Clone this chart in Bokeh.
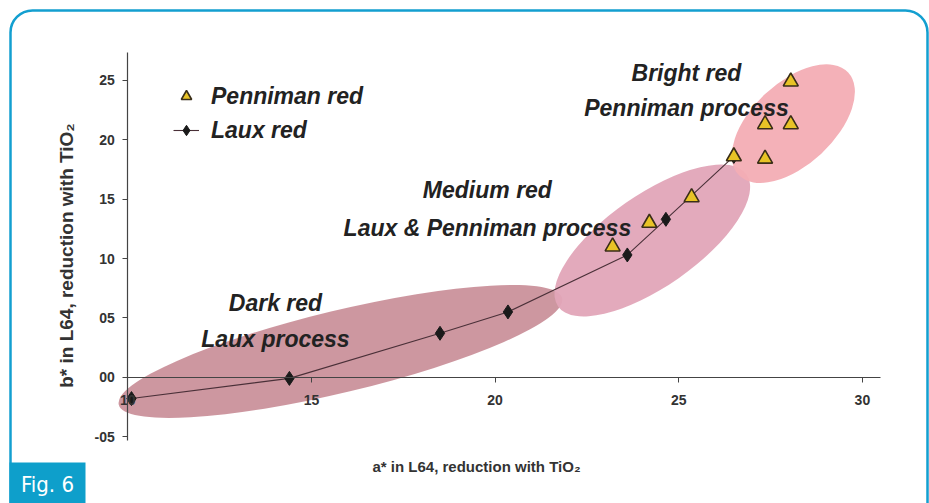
import numpy as np
from bokeh.plotting import figure
from bokeh.models import (ColumnDataSource, FixedTicker, Legend, LegendItem, Label,
                          BoxAnnotation, Range1d)
from bokeh.core.properties import value
from bokeh.embed import file_html
from bokeh.resources import INLINE

# ---------------- data ----------------
laux_a = [10.1, 14.4, 18.5, 20.35, 23.6, 24.65, 26.5]
laux_b = [-1.8, -0.1, 3.7, 5.5, 10.3, 13.3, 18.6]

penn_a = [23.2, 24.2, 25.35, 26.5, 27.35, 27.35, 28.05, 28.05]
penn_b = [11.0, 13.0, 15.15, 18.6, 18.4, 21.3, 21.3, 24.9]

x_ticks = [10, 15, 20, 25, 30]
y_ticks = [-5, 0, 5, 10, 15, 20, 25]
y_tick_labels = ["-05", "00", "05", "10", "15", "20", "25"]

region_names = ["Dark red", "Medium red", "Bright red"]
region_process = ["Laux process", "Laux & Penniman process", "Penniman process"]

# ---------------- figure ----------------
# the frame covers the whole canvas; axes are placed at fixed data locations
FONT = "Liberation Sans"
W, H = 929, 503
p = figure(width=W, height=H, output_backend="svg", toolbar_location=None, title=None,
           x_range=Range1d(6.534, 31.827), y_range=Range1d(-10.64, 31.736),
           min_border_left=0, min_border_right=0, min_border_top=0,
           min_border_bottom=0, background_fill_color="white",
           border_fill_color="white", outline_line_color=None)
p.grid.visible = False

# region ellipses (centres in data space, sizes in screen px)
ell = ColumnDataSource(dict(
    x=[15.79, 24.28, 28.12], y=[2.17, 11.52, 21.36],
    w=[456, 230, 150], h=[82, 92, 82], ang=[13.5, 35, 43],
    color=["#ca919b", "#e2a5b8", "#f3adb4"]))
p.ellipse(x="x", y="y", width="w", height="h", angle="ang", angle_units="deg",
          width_units="screen", height_units="screen", source=ell,
          fill_color="color", fill_alpha=0.95, line_color=None)

laux_src = ColumnDataSource(dict(a=laux_a, b=laux_b))
penn_src = ColumnDataSource(dict(a=penn_a, b=penn_b))

laux_line = p.line("a", "b", source=laux_src, line_color="#4a3038", line_width=1.1)
laux_pts = p.scatter("a", "b", source=laux_src, marker="diamond", size=14,
                     fill_color="#1a1a1a", line_color="#1a1a1a")
penn_pts = p.scatter("a", "b", source=penn_src, marker="triangle", size=15,
                     fill_color="#e8c326", line_color="#3a2e18", line_width=1.6)

# region labels
lab_src = ColumnDataSource(dict(
    x=[14.02, 19.79, 25.21, 14.02, 19.79, 25.21],
    y=[6.29, 15.73, 25.67, 3.18, 12.53, 22.72],
    t=region_names + region_process))
p.text(x="x", y="y", text="t", source=lab_src, text_font=value(FONT),
       text_font_style="bold italic", text_font_size="23px", text_align="center",
       text_baseline="middle", text_color="#222222")

# ---------------- axes ----------------
p.xaxis.fixed_location = 0
p.yaxis.fixed_location = 10
p.xaxis.bounds = (10, 30.5)
p.yaxis.bounds = (-5.33, 27.35)
p.xaxis.ticker = FixedTicker(ticks=x_ticks)
p.yaxis.ticker = FixedTicker(ticks=y_ticks)
p.yaxis.major_label_overrides = {t: l for t, l in zip(y_ticks, y_tick_labels)}
for ax in (p.xaxis, p.yaxis):
    ax.axis_line_color = "#444444"
    ax.axis_line_width = 1.2
    ax.major_tick_line_color = "#444444"
    ax.major_tick_in = 0
    ax.major_tick_out = 5
    ax.minor_tick_line_color = None
    ax.major_label_text_font = FONT
    ax.major_label_text_font_style = "bold"
    ax.major_label_text_font_size = "14px"
    ax.major_label_text_color = "#333333"
p.xaxis.major_label_standoff = 13
p.yaxis.major_label_standoff = 8

# axis titles
p.add_layout(Label(x=476, y=37, x_units="screen", y_units="screen",
                   text="a* in L64, reduction with TiO\u2082", text_font=FONT,
                   text_font_style="bold", text_font_size="15px", text_color="#333333",
                   text_align="center", text_baseline="middle"))
p.add_layout(Label(x=66, y=248, x_units="screen", y_units="screen", angle=np.pi / 2,
                   text="b* in L64, reduction with TiO\u2082", text_font=FONT,
                   text_font_style="bold", text_font_size="19px", text_color="#333333",
                   text_align="center", text_baseline="middle"))

# legend
legend = Legend(items=[LegendItem(label="Penniman red", renderers=[penn_pts]),
                       LegendItem(label="Laux red", renderers=[laux_line, laux_pts])],
                location=(173, 356), orientation="vertical", padding=0, margin=0,
                spacing=0, glyph_width=26, glyph_height=34, label_standoff=12,
                label_text_font=FONT, label_text_font_style="bold italic",
                label_text_font_size="23px", label_text_color="#222222",
                background_fill_alpha=0, border_line_color=None)
p.add_layout(legend, "center")

# decoration: rounded border and "Fig. 6" tab
p.add_layout(BoxAnnotation(left=10, right=927, top=493, bottom=-40,
                           left_units="screen", right_units="screen",
                           top_units="screen", bottom_units="screen",
                           fill_color=None, line_color="#139fd0", line_alpha=1,
                           line_width=2.5, border_radius=22))
p.add_layout(BoxAnnotation(left=9, right=85, top=41, bottom=-10,
                           left_units="screen", right_units="screen",
                           top_units="screen", bottom_units="screen",
                           fill_color="#0e9fcb", fill_alpha=1, line_color=None))
p.add_layout(Label(x=47, y=19, x_units="screen", y_units="screen", text="Fig. 6",
                   text_font="Liberation Sans Narrow, DejaVu Sans Condensed, sans-serif",
                   text_font_size="22px", text_color="white",
                   text_align="center", text_baseline="middle"))

open("out.html", "w").write(file_html(p, INLINE))
